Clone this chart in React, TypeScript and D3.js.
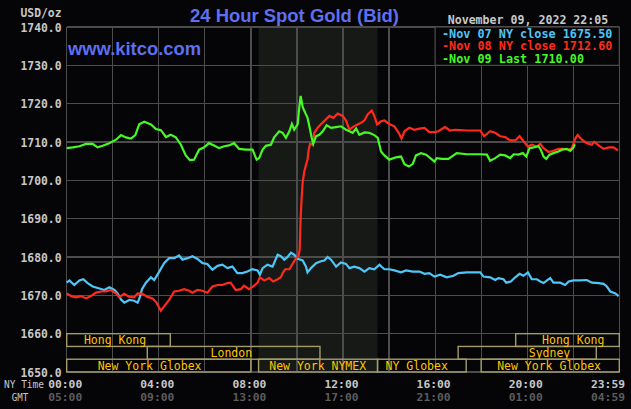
import React from 'react';
import * as d3 from 'd3';

const W = 631;
const H = 409;

const yTicks = [1650, 1660, 1670, 1680, 1690, 1700, 1710, 1720, 1730, 1740];
const gridHours = [0, 2, 4, 6, 8, 10, 12, 14, 16, 18, 20, 22, 24];
const labelHours = [0, 4, 8, 12, 16, 20, 23.983];
const nyLabels = ['00:00', '04:00', '08:00', '12:00', '16:00', '20:00', '23:59'];
const gmtLabels = ['05:00', '09:00', '13:00', '17:00', '21:00', '01:00', '04:59'];
const nymexSpan = [8.333, 13.5];

const sessionNames = ['Hong Kong', 'London', 'New York Globex', 'New York NYMEX', 'NY Globex', 'Sydney', 'Hong Kong', 'New York Globex'];
const sessionStart = [0, 3.5, 0, 8.333, 13.5, 17.0, 19.5, 18.0];
const sessionEnd = [4.5, 11.0, 8.0, 13.5, 17.35, 23.0, 24, 24];
const sessionRow = [0, 1, 2, 2, 2, 1, 0, 2];
const sessionLabelHour = [2.1, 7.15, 3.6, 10.9, 15.2, 20.97, 22.0, 20.95];

const legendTexts = ['-Nov 07 NY close 1675.50', '-Nov 08 NY close 1712.60', '-Nov 09 Last 1710.00'];

const nov07: [number, number][] = [
  [0, 1673.3], [0.12, 1673.9], [0.33, 1672.7], [0.55, 1673.9], [0.72, 1674.2], [0.91, 1673.2], [1.13, 1672.3],
  [1.42, 1671.8], [1.63, 1671.4], [1.85, 1672.1], [2.07, 1671.4], [2.21, 1670.5], [2.36, 1668.9], [2.5, 1668.1],
  [2.72, 1668.8], [2.93, 1668.6], [3.08, 1668.1], [3.18, 1669.6], [3.27, 1671.6], [3.44, 1673.3], [3.66, 1674.7],
  [3.8, 1674.0], [4.02, 1676.2], [4.23, 1678.4], [4.45, 1679.7], [4.67, 1679.7], [4.88, 1680.4], [5.03, 1679.3],
  [5.25, 1679.7], [5.46, 1680.2], [5.68, 1679.5], [5.9, 1678.4], [6.11, 1678.2], [6.33, 1676.7], [6.55, 1677.7],
  [6.76, 1678.0], [6.98, 1677.1], [7.2, 1677.5], [7.41, 1675.8], [7.63, 1675.8], [7.85, 1676.2], [8.06, 1676.8],
  [8.29, 1676.5], [8.39, 1675.4], [8.51, 1677.1], [8.72, 1678.0], [8.94, 1677.5], [9.16, 1680.6], [9.3, 1680.2],
  [9.45, 1679.3], [9.59, 1680.0], [9.74, 1681.1], [9.88, 1680.6], [10.03, 1679.5], [10.25, 1679.1], [10.39, 1677.5],
  [10.46, 1676.0], [10.61, 1677.1], [10.83, 1678.4], [11.04, 1678.9], [11.19, 1679.1], [11.33, 1680.0], [11.48, 1679.3],
  [11.7, 1677.5], [11.91, 1678.6], [12.13, 1678.2], [12.28, 1677.1], [12.49, 1677.5], [12.71, 1677.1], [12.93, 1676.2],
  [13.14, 1677.1], [13.36, 1676.8], [13.58, 1678.0], [13.8, 1676.8], [14.01, 1676.8], [14.23, 1676.5], [14.52, 1676.0],
  [14.74, 1676.5], [15.03, 1676.2], [15.32, 1676.2], [15.54, 1675.6], [15.75, 1675.8], [15.97, 1674.9], [16.22, 1675.4],
  [16.51, 1674.7], [16.8, 1675.1], [17.01, 1675.8], [17.38, 1676.0], [17.96, 1676.0], [18.1, 1674.9], [18.39, 1674.7],
  [18.61, 1674.0], [18.75, 1674.5], [18.97, 1674.2], [19.09, 1673.3], [19.29, 1673.6], [19.48, 1674.7], [19.67, 1675.6],
  [19.84, 1675.1], [20.03, 1676.0], [20.2, 1674.2], [20.42, 1674.2], [20.57, 1673.6], [20.71, 1673.2], [20.86, 1673.9],
  [21.0, 1674.5], [21.14, 1673.3], [21.43, 1673.3], [21.65, 1672.7], [21.8, 1673.6], [22.01, 1673.9], [22.3, 1673.9],
  [22.59, 1674.0], [22.81, 1673.3], [23.1, 1673.2], [23.32, 1673.0], [23.46, 1672.3], [23.61, 1671.0], [23.83, 1670.5],
  [23.97, 1669.8],
];

const nov08: [number, number][] = [
  [0, 1670.5], [0.19, 1669.8], [0.4, 1669.5], [0.62, 1669.8], [0.84, 1669.2], [1.05, 1669.8], [1.27, 1670.7],
  [1.49, 1671.0], [1.71, 1671.0], [1.92, 1671.4], [2.14, 1670.5], [2.28, 1669.5], [2.5, 1670.4], [2.72, 1669.6],
  [2.93, 1669.5], [3.08, 1670.5], [3.29, 1670.4], [3.51, 1669.6], [3.73, 1669.2], [3.9, 1668.1], [4.09, 1666.0],
  [4.28, 1667.5], [4.45, 1668.8], [4.67, 1671.0], [4.88, 1671.2], [5.1, 1671.6], [5.32, 1671.2], [5.46, 1670.7],
  [5.68, 1671.4], [5.9, 1671.2], [6.11, 1670.7], [6.33, 1672.3], [6.55, 1672.7], [6.76, 1672.7], [6.98, 1673.2],
  [7.12, 1673.3], [7.34, 1671.4], [7.56, 1671.6], [7.7, 1672.5], [7.92, 1671.6], [8.14, 1672.5], [8.29, 1673.3],
  [8.39, 1674.7], [8.58, 1673.9], [8.8, 1674.5], [8.97, 1673.6], [9.16, 1674.2], [9.3, 1674.7], [9.38, 1675.8],
  [9.49, 1676.8], [9.67, 1676.8], [9.81, 1678.2], [9.96, 1679.7], [10.07, 1680.2], [10.12, 1682.0], [10.16, 1690.0],
  [10.2, 1695.0], [10.25, 1699.6], [10.32, 1702.3], [10.39, 1704.0], [10.46, 1705.4], [10.51, 1708.0], [10.57, 1709.5],
  [10.68, 1709.3], [10.75, 1712.4], [10.9, 1713.7], [11.04, 1714.6], [11.26, 1715.9], [11.41, 1716.8], [11.58, 1716.3],
  [11.77, 1717.4], [11.99, 1716.8], [12.13, 1715.6], [12.28, 1713.2], [12.42, 1713.9], [12.57, 1714.4], [12.78, 1715.0],
  [12.93, 1715.6], [13.07, 1717.2], [13.25, 1718.2], [13.36, 1716.8], [13.48, 1714.6], [13.65, 1715.4], [13.8, 1715.6],
  [14.01, 1714.7], [14.23, 1714.1], [14.42, 1712.4], [14.54, 1710.9], [14.67, 1712.8], [14.88, 1713.7], [15.1, 1713.2],
  [15.32, 1713.5], [15.54, 1713.7], [15.75, 1712.6], [15.97, 1712.6], [16.14, 1712.8], [16.43, 1713.9], [16.65, 1713.0],
  [16.87, 1713.2], [17.38, 1713.0], [17.96, 1713.0], [18.13, 1711.5], [18.39, 1712.8], [18.61, 1712.4], [18.83, 1711.5],
  [19.04, 1711.3], [19.26, 1710.4], [19.48, 1710.4], [19.67, 1711.5], [19.84, 1710.2], [20.03, 1708.8], [20.2, 1709.3],
  [20.42, 1708.8], [20.57, 1709.5], [20.71, 1708.4], [20.93, 1707.4], [21.14, 1707.7], [21.36, 1708.2], [21.58, 1708.2],
  [21.8, 1708.0], [21.94, 1708.4], [22.09, 1710.9], [22.19, 1711.8], [22.38, 1710.6], [22.59, 1709.7], [22.81, 1709.3],
  [22.91, 1710.0], [23.1, 1709.1], [23.32, 1708.2], [23.54, 1708.6], [23.75, 1708.6], [23.94, 1707.8],
];

const nov09: [number, number][] = [
  [0, 1708.4], [0.26, 1708.6], [0.55, 1708.9], [0.84, 1709.5], [1.13, 1709.5], [1.34, 1708.6], [1.56, 1709.0],
  [1.85, 1709.7], [2.14, 1710.6], [2.36, 1711.8], [2.57, 1711.2], [2.79, 1710.9], [2.98, 1711.8], [3.15, 1714.6],
  [3.37, 1715.3], [3.66, 1714.6], [3.87, 1713.4], [4.09, 1713.1], [4.31, 1711.3], [4.52, 1711.9], [4.74, 1711.2],
  [4.96, 1709.3], [5.17, 1706.5], [5.35, 1705.3], [5.53, 1705.4], [5.75, 1708.0], [5.97, 1708.6], [6.18, 1709.7],
  [6.4, 1709.1], [6.62, 1708.4], [6.84, 1708.9], [7.05, 1709.1], [7.27, 1709.7], [7.49, 1708.2], [7.77, 1708.0],
  [8.07, 1708.0], [8.25, 1705.4], [8.36, 1705.8], [8.51, 1708.0], [8.65, 1709.0], [8.87, 1709.3], [9.01, 1711.2],
  [9.23, 1712.8], [9.38, 1712.4], [9.52, 1711.1], [9.67, 1712.8], [9.78, 1714.7], [9.88, 1713.2], [10.03, 1714.6],
  [10.1, 1719.0], [10.16, 1722.0], [10.25, 1719.1], [10.36, 1717.6], [10.46, 1716.3], [10.54, 1714.1], [10.64, 1711.1],
  [10.71, 1709.5], [10.83, 1711.5], [10.97, 1711.9], [11.12, 1712.8], [11.29, 1714.4], [11.48, 1713.7], [11.7, 1713.9],
  [11.91, 1714.1], [12.13, 1713.2], [12.28, 1712.8], [12.42, 1712.4], [12.57, 1713.5], [12.71, 1711.9], [12.93, 1712.5],
  [13.14, 1712.4], [13.36, 1711.8], [13.51, 1711.1], [13.65, 1707.5], [13.8, 1706.5], [14.01, 1705.4], [14.3, 1706.0],
  [14.52, 1706.2], [14.67, 1704.2], [14.86, 1703.6], [15.03, 1704.3], [15.17, 1706.5], [15.39, 1707.1], [15.61, 1706.7],
  [15.83, 1705.6], [15.97, 1704.9], [16.07, 1705.8], [16.29, 1705.6], [16.58, 1705.6], [16.94, 1707.1], [17.38, 1706.8],
  [17.96, 1706.8], [18.25, 1706.7], [18.39, 1705.1], [18.61, 1705.8], [18.83, 1706.7], [19.04, 1706.5], [19.26, 1705.8],
  [19.41, 1706.8], [19.62, 1706.7], [19.81, 1707.1], [19.96, 1706.2], [20.1, 1708.4], [20.28, 1708.6], [20.49, 1708.9],
  [20.59, 1708.0], [20.71, 1706.2], [20.83, 1705.6], [20.97, 1706.7], [21.14, 1707.1], [21.36, 1707.5], [21.51, 1708.0],
  [21.72, 1708.2], [21.87, 1707.7], [21.99, 1708.4], [22.07, 1709.4],
];

const COLORS = {
  bg: '#050507',
  shade: '#161916',
  grid: '#4c4c4c',
  session: '#a39c68',
  sessionText: '#ffc400',
  blue: '#4ec6f7',
  red: '#ff2a1c',
  green: '#46f824',
  title: '#5e6ff0',
  axisText: '#c8c8c8',
  gmtText: '#5c5c5c',
};

const MONO = "'DejaVu Sans Mono', 'Liberation Mono', monospace";
const SANS = "'Liberation Sans', Arial, sans-serif";

export default function App() {
  const x = d3.scaleLinear().domain([0, 24]).range([66.7, 619.3]);
  const y = d3.scaleLinear().domain([1650, 1740]).range([372, 27]);
  const line = d3
    .line<[number, number]>()
    .x((d) => x(d[0]))
    .y((d) => y(d[1]))
    .curve(d3.curveLinear);

  const rowH = (y(1650) - y(1660)) / 3;
  const rowTop = (r: number) => y(1660) + r * rowH;

  const series = [
    { data: nov07, color: COLORS.blue },
    { data: nov08, color: COLORS.red },
    { data: nov09, color: COLORS.green },
  ];
  const legendColors = [COLORS.blue, COLORS.red, COLORS.green];

  return (
    <svg
      width={W}
      height={H}
      style={{ position: 'absolute', left: 0, top: 0, display: 'block' }}
    >
      <rect x={0} y={0} width={W} height={H} fill={COLORS.bg} />
      {/* NYMEX shading */}
      <rect
        x={x(nymexSpan[0])}
        y={y(1740)}
        width={x(nymexSpan[1]) - x(nymexSpan[0])}
        height={y(1650) - y(1740)}
        fill={COLORS.shade}
      />
      {/* grid */}
      <g shapeRendering="crispEdges">
        {yTicks.map((v) => (
          <line key={'h' + v} x1={x(0)} x2={x(24)} y1={y(v)} y2={y(v)} stroke={COLORS.grid} strokeWidth={1.2} />
        ))}
        {gridHours.map((h) => (
          <line key={'v' + h} x1={x(h)} x2={x(h)} y1={y(1740)} y2={y(1650)} stroke={COLORS.grid} strokeWidth={1.2} />
        ))}
      </g>
      {/* sessions */}
      <g>
        {sessionNames.map((name, i) => {
          const x0 = x(sessionStart[i]);
          const x1 = x(sessionEnd[i]);
          const t = rowTop(sessionRow[i]);
          return (
            <g key={'s' + i}>
              <rect
                x={x0}
                y={t}
                width={x1 - x0}
                height={rowH}
                fill="none"
                stroke={COLORS.session}
                strokeWidth={1.4}
              />
              <text
                x={x(sessionLabelHour[i])}
                y={t + rowH - 2.5}
                textAnchor="middle"
                fontFamily={MONO}
                fontSize={11.5}
                fill={COLORS.sessionText}
              >
                {name}
              </text>
            </g>
          );
        })}
      </g>
      {/* series */}
      {series.map((s, i) => (
        <path key={'p' + i} d={line(s.data) || ''} fill="none" stroke={s.color} strokeWidth={2.2} strokeLinejoin="miter" />
      ))}
      {/* legend */}
      <rect x={x(16)} y={y(1740)} width={x(24) - x(16)} height={y(1730) - y(1740)} fill={COLORS.bg} stroke={COLORS.grid} strokeWidth={1.2} />
      {legendTexts.map((t, i) => (
        <text
          key={'l' + i}
          x={442}
          y={37.5 + i * 12.6}
          fontFamily={MONO}
          fontWeight="bold"
          fontSize={12}
          fill={legendColors[i]}
          textLength={t.length * 7.1}
          lengthAdjust="spacingAndGlyphs"
        >
          {t}
        </text>
      ))}
      {/* y axis labels */}
      {yTicks.map((v) => (
        <text
          key={'yl' + v}
          x={61.5}
          y={y(v) + 4.5}
          textAnchor="end"
          fontFamily={MONO}
          fontWeight="bold"
          fontSize={11.5}
          fill={COLORS.axisText}
          textLength={41}
          lengthAdjust="spacingAndGlyphs"
        >
          {v.toFixed(1)}
        </text>
      ))}
      <text x={20.5} y={17} fontFamily={MONO} fontWeight="bold" fontSize={11.5} fill={COLORS.axisText} textLength={41} lengthAdjust="spacingAndGlyphs">
        USD/oz
      </text>
      {/* title */}
      <text x={190} y={21.5} fontFamily={SANS} fontWeight="bold" fontSize={19} fill={COLORS.title} textLength={209} lengthAdjust="spacingAndGlyphs">
        24 Hour Spot Gold (Bid)
      </text>
      <text x={68} y={55} fontFamily={SANS} fontWeight="bold" fontSize={18} fill={COLORS.title} textLength={133} lengthAdjust="spacingAndGlyphs">
        www.kitco.com
      </text>
      <text x={447.7} y={24} fontFamily={MONO} fontWeight="bold" fontSize={11.6} fill={COLORS.axisText} textLength={160.6} lengthAdjust="spacingAndGlyphs">
        November 09, 2022 22:05
      </text>
      {/* x axis labels */}
      <text x={4} y={387.5} fontFamily={MONO} fontSize={9.6} fill={COLORS.axisText} textLength={40} lengthAdjust="spacingAndGlyphs">
        NY Time
      </text>
      <text x={11.7} y={401} fontFamily={MONO} fontSize={9.6} fill={COLORS.axisText} textLength={16.5} lengthAdjust="spacingAndGlyphs">
        GMT
      </text>
      {labelHours.map((h, i) => {
        const cx = Math.min(x(h) - 1.5, W - 6 - 17);
        return (
          <g key={'xl' + i}>
            <text x={cx} y={387.5} textAnchor="middle" fontFamily={MONO} fontWeight="bold" fontSize={11.3} fill={COLORS.axisText} textLength={34} lengthAdjust="spacingAndGlyphs">
              {nyLabels[i]}
            </text>
            <text x={cx} y={401} textAnchor="middle" fontFamily={MONO} fontWeight="bold" fontSize={11.3} fill={COLORS.gmtText} textLength={34} lengthAdjust="spacingAndGlyphs">
              {gmtLabels[i]}
            </text>
          </g>
        );
      })}
    </svg>
  );
}
